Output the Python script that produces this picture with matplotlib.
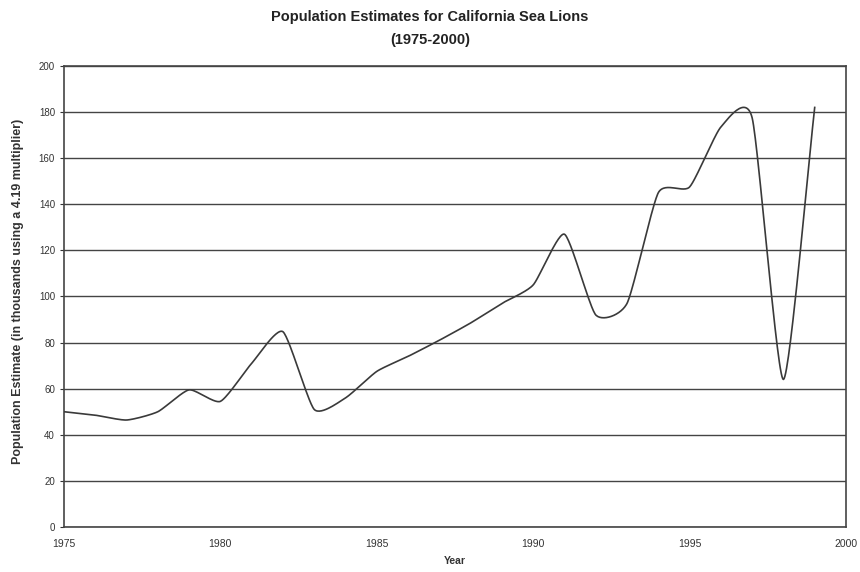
import numpy as np
import matplotlib
matplotlib.use("Agg")
import matplotlib.pyplot as plt

# Population estimates (thousands)
years = [1975, 1976, 1977, 1978, 1979, 1980, 1981, 1982, 1983, 1984, 1985, 1986,
         1987, 1988, 1989, 1990, 1991, 1992, 1993, 1994, 1995, 1996, 1997, 1998, 1999]
population = [50, 48.5, 46.4, 50, 59.5, 54.5, 71, 84.7, 51, 56, 67.5, 74,
              81, 88.5, 97, 105, 127, 92, 97, 145, 147.5, 173.5, 177.5, 64, 182]

x_ticks = [1975, 1980, 1985, 1990, 1995, 2000]
y_ticks = list(range(0, 201, 20))


def smooth_curve(xs, ys, steps=30, k=0.6):
    # cardinal spline through the points, like a spreadsheet "smoothed line"
    xs = np.asarray(xs, float)
    ys = np.asarray(ys, float)
    px = np.concatenate([[2 * xs[0] - xs[1]], xs, [2 * xs[-1] - xs[-2]]])
    py = np.concatenate([[2 * ys[0] - ys[1]], ys, [2 * ys[-1] - ys[-2]]])
    out_x, out_y = [], []
    t = np.linspace(0, 1, steps, endpoint=False)
    h00 = 2 * t ** 3 - 3 * t ** 2 + 1
    h10 = t ** 3 - 2 * t ** 2 + t
    h01 = -2 * t ** 3 + 3 * t ** 2
    h11 = t ** 3 - t ** 2
    for i in range(1, len(px) - 2):
        for p, o in ((px, out_x), (py, out_y)):
            m1 = k * (p[i + 1] - p[i - 1]) / 2
            m2 = k * (p[i + 2] - p[i]) / 2
            o.extend(h00 * p[i] + h10 * m1 + h01 * p[i + 1] + h11 * m2)
    out_x.append(xs[-1])
    out_y.append(ys[-1])
    return np.array(out_x), np.array(out_y)


plt.rcParams['font.family'] = ['Liberation Sans', 'DejaVu Sans']

fig = plt.figure(figsize=(8.6, 5.72), dpi=100)
ax = fig.add_axes([0.0744, 0.0787, 0.9093, 0.806])

sx, sy = smooth_curve(years, population)
ax.plot(sx, sy, color='#3a3a3a', linewidth=1.2, zorder=3)

ax.set_xlim(1975, 2000)
ax.set_ylim(0, 200)
ax.set_xticks(x_ticks)
ax.set_yticks(y_ticks)
ax.yaxis.grid(True, color='#444444', linewidth=1.0)
ax.set_axisbelow(True)

for s in ax.spines.values():
    s.set_color('#444444')
    s.set_linewidth(1.2)

ax.tick_params(axis='y', labelsize=7, colors='#333333', length=3, width=0.8)
ax.tick_params(axis='x', labelsize=7.5, colors='#333333', pad=9, length=0)

ax.set_xlabel('Year', fontsize=7.5, fontweight='bold', color='#333333', labelpad=5)
ax.set_ylabel('Population Estimate (in thousands using a 4.19 multiplier)',
              fontsize=9, fontweight='bold', color='#333333', labelpad=8)
ax.yaxis.set_label_coords(-0.051, 0.51)

fig.text(0.5, 1 - 17 / 572, 'Population Estimates for California Sea Lions',
         ha='center', va='center', fontsize=10.5, fontweight='bold', color='#222222')
fig.text(0.5, 1 - 40 / 572, '(1975-2000)',
         ha='center', va='center', fontsize=10.5, fontweight='bold', color='#222222')

fig.savefig('out.png', dpi=100, facecolor='white')
